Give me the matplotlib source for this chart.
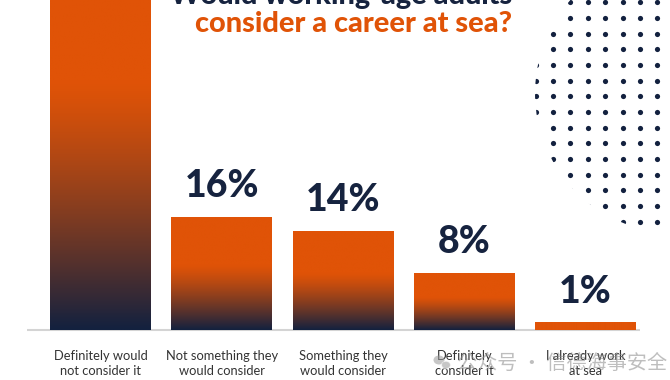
import numpy as np
import matplotlib
matplotlib.use("Agg")
import matplotlib.pyplot as plt
from matplotlib.patches import Circle, Ellipse

# ---- data ----
categories = ["Definitely would\nnot consider it",
              "Not something they\nwould consider",
              "Something they\nwould consider",
              "Definitely\nconsider it",
              "I already work\nat sea"]
values = [61, 16, 14, 8, 1]
value_labels = ["61%", "16%", "14%", "8%", "1%"]
title_line1 = "Would working-age adults"
title_line2 = "consider a career at sea?"
watermark = "公众号 · 信德海事安全"

ORANGE = np.array([224, 83, 7]) / 255
NAVY = np.array([19, 33, 63]) / 255

W, H = 670, 380
fig = plt.figure(figsize=(W / 100, H / 100), dpi=100)
fig.patch.set_facecolor("white")

# main axes in data units
PX_PER_UNIT = 7.06
BASE_PX = 330
X0_PX, DX_PX = 100.5, 121.25
ax = fig.add_axes([0, 0, 1, 1])
ax.set_axis_off()

bar_w = 101 / DX_PX
xs = np.arange(len(values))


def gradient_img(n=256, solid=False):
    t = np.linspace(0, 1, n)  # 0 = top, 1 = bottom
    s = np.clip((t - 0.42) / 0.58, 0, 1) ** 1.25
    if solid:
        s = np.zeros_like(t)
    cols = ORANGE[None, :] * (1 - s[:, None]) + NAVY[None, :] * s[:, None]
    return cols[:, None, :]


for x, v in zip(xs, values):
    img = gradient_img(solid=(v < 2))
    ax.imshow(img, extent=[x - bar_w / 2, x + bar_w / 2, 0, v],
              aspect="auto", origin="upper", zorder=2, interpolation="bilinear")

for x, v, lab in zip(xs, values, value_labels):
    ax.text(x, v + 2.85, lab, ha="center", va="baseline", fontsize=27,
            family="Lato", fontweight="black", color="#16233f", zorder=3)

for x, c in zip(xs, categories):
    ax.text(x, (BASE_PX - 363.5) / PX_PER_UNIT, c, ha="center", va="center",
            fontsize=9.3, family="Lato", color="#333333", linespacing=1.3,
            zorder=3)

# baseline
ax.plot([(27 - X0_PX) / DX_PX, (640 - X0_PX) / DX_PX], [0, 0],
        color="#d4d4d4", lw=1.5, zorder=1, solid_capstyle="butt")

ax.set_xlim(-X0_PX / DX_PX, (W - X0_PX) / DX_PX)
ax.set_ylim((BASE_PX - H) / PX_PER_UNIT, BASE_PX / PX_PER_UNIT)

# decoration axes in pixel coords
dec = fig.add_axes([0, 0, 1, 1], zorder=5)
dec.set_xlim(0, W)
dec.set_ylim(H, 0)
dec.set_axis_off()
dec.patch.set_alpha(0)

# dotted circle pattern
cx, cy, r = 675, 93, 140
clip = Circle((cx, cy), r, transform=dec.transData, facecolor="none",
              edgecolor="none")
dec.add_patch(clip)
gx = 535.7 + 17.37 * np.arange(-1, 10)
gy = 2.3 + 15.67 * np.arange(-1, 16)
GX, GY = np.meshgrid(gx, gy)
mask = (GX - cx) ** 2 + (GY - cy) ** 2 < (r + 3) ** 2
sc = dec.scatter(GX[mask], GY[mask], s=14, color="#13213f", linewidths=0,
                 zorder=6)
sc.set_clip_path(clip)

# title
dec.text(512, 4, title_line1, ha="right", va="baseline", fontsize=20.8,
         family="Lato", fontweight="black", color="#16233f")
dec.text(512, 32, title_line2, ha="right", va="baseline", fontsize=20.8,
         family="Lato", fontweight="black", color="#e05307")

# watermark
dec.add_patch(Ellipse((439, 360), 11, 9, facecolor="#9a9a9a", alpha=0.55,
                      edgecolor="none"))
dec.add_patch(Ellipse((446, 365), 9, 7.5, facecolor="#9a9a9a", alpha=0.55,
                      edgecolor="white", lw=0.8))
dec.text(457, 363, watermark, ha="left", va="center", fontsize=14.5,
         family=["Noto Sans CJK SC", "DejaVu Sans"], color="#8a8a8a",
         alpha=0.55)

fig.savefig("out.png", dpi=100, facecolor="white")
